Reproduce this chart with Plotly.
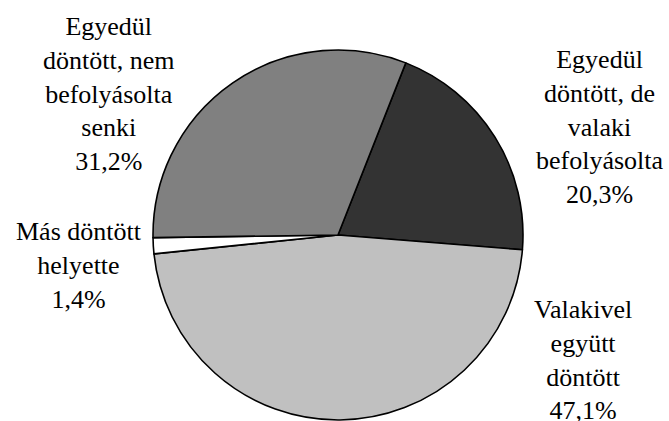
import plotly.graph_objects as go

categories = ["Egyedül döntött, de valaki befolyásolta", "Valakivel együtt döntött",
              "Más döntött helyette", "Egyedül döntött, nem befolyásolta senki"]
values = [20.3, 47.1, 1.4, 31.2]
label_texts = ["Egyedül<br>döntött, de<br>valaki<br>befolyásolta<br>20,3%",
               "Valakivel<br>együtt<br>döntött<br>47,1%",
               "Más döntött<br>helyette<br>1,4%",
               "Egyedül<br>döntött, nem<br>befolyásolta<br>senki<br>31,2%"]
colors = ["#333333", "#c0c0c0", "#ffffff", "#808080"]

W, H = 669, 421
cx, cy, r = 338, 235, 185

fig = go.Figure(go.Pie(
    labels=categories, values=values, sort=False, direction="clockwise",
    rotation=21.5, textinfo="none", hoverinfo="label+percent",
    marker=dict(colors=colors, line=dict(color="black", width=1.6)),
    domain=dict(x=[(cx - r) / W, (cx + r) / W], y=[(H - cy - r) / H, (H - cy + r) / H]),
    showlegend=False,
))

label_pos = [(600, 127), (583, 360), (79, 265), (108, 94)]
for txt, (x, y) in zip(label_texts, label_pos):
    fig.add_annotation(x=x / W, y=1 - y / H, xref="paper", yref="paper", text=txt,
                       showarrow=False, xanchor="center", yanchor="middle", align="center",
                       font=dict(family="Liberation Serif, Times New Roman, serif", size=26, color="black"))

fig.update_layout(width=W, height=H, margin=dict(l=0, r=0, t=0, b=0),
                  paper_bgcolor="white", plot_bgcolor="white")
fig.write_html("out.html", config={"displayModeBar": False},
               post_script="document.body.style.margin='0';document.body.style.overflow='hidden';")
